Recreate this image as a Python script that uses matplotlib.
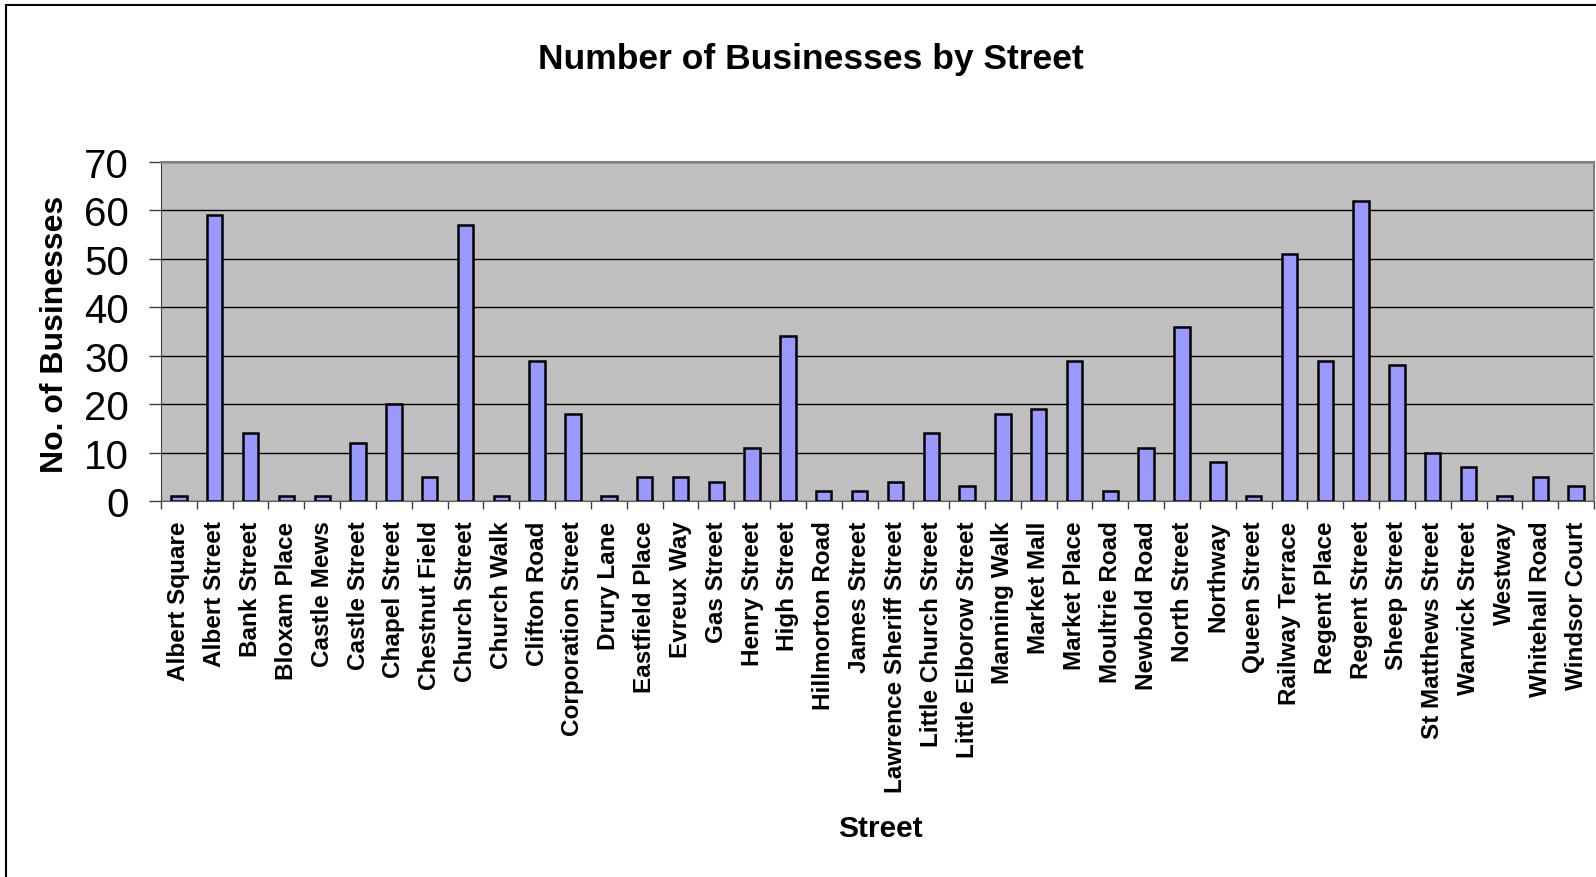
import numpy as np
import matplotlib
matplotlib.use("Agg")
import matplotlib.pyplot as plt
from matplotlib.patches import Rectangle

streets = ["Albert Square", "Albert Street", "Bank Street", "Bloxam Place", "Castle Mews",
           "Castle Street", "Chapel Street", "Chestnut Field", "Church Street", "Church Walk",
           "Clifton Road", "Corporation Street", "Drury Lane", "Eastfield Place", "Evreux Way",
           "Gas Street", "Henry Street", "High Street", "Hillmorton Road", "James Street",
           "Lawrence Sheriff Street", "Little Church Street", "Little Elborow Street",
           "Manning Walk", "Market Mall", "Market Place", "Moultrie Road", "Newbold Road",
           "North Street", "Northway", "Queen Street", "Railway Terrace", "Regent Place",
           "Regent Street", "Sheep Street", "St Matthews Street", "Warwick Street", "Westway",
           "Whitehall Road", "Windsor Court"]
businesses = [1, 59, 14, 1, 1, 12, 20, 5, 57, 1,
              29, 18, 1, 5, 5, 4, 11, 34, 2, 2,
              4, 14, 3, 18, 19, 29, 2, 11, 36, 8,
              1, 51, 29, 62, 28, 10, 7, 1, 5, 3]
y_ticks = list(range(0, 71, 10))

W, H = 1596, 878
plt.rcParams["font.family"] = ["Liberation Sans", "DejaVu Sans"]

fig = plt.figure(figsize=(W / 100, H / 100), dpi=100)
fig.patch.set_facecolor("white")

# chart area frame
fig.patches.append(Rectangle((6 / W, -0.1), 1.2, 1.1 - 6 / H, transform=fig.transFigure,
                             fill=False, edgecolor="black", linewidth=1.5))

ax = fig.add_axes([161 / W, 1 - 502 / H, (1594 - 161) / W, (502 - 163) / H])
ax.set_facecolor("#c0c0c0")

x = np.arange(len(streets))
ax.bar(x, businesses, width=0.43, color="#9999ff", edgecolor="black", linewidth=1.8, zorder=3)

ax.set_xlim(-0.5, len(streets) - 0.5)
ax.set_ylim(0, 70)
ax.set_yticks(y_ticks)
ax.yaxis.grid(True, color="black", linewidth=1)
ax.set_axisbelow(True)

# category boundaries get the tick marks, centres get the names
ax.set_xticks(np.arange(-0.5, len(streets), 1))
ax.set_xticklabels([])
ax.set_xticks(x, minor=True)
ax.set_xticklabels(streets, minor=True, rotation=90, fontsize=17.5, fontweight="bold", va="top")
ax.tick_params(axis="x", which="major", length=6, width=1, color="#404040", direction="out")
ax.tick_params(axis="x", which="minor", length=0, pad=14)
ax.tick_params(axis="y", length=9, width=1, color="#404040", labelsize=29, pad=14)

for side in ["top", "right"]:
    ax.spines[side].set_color("#808080")
    ax.spines[side].set_linewidth(1.5)
ax.spines["bottom"].set_color("#606060")
ax.spines["left"].set_color("#404040")

fig.text(811 / W, 1 - 59 / H, "Number of Businesses by Street", ha="center", va="center",
         fontsize=25.5, fontweight="bold")
fig.text(55 / W, 1 - 334 / H, "No. of Businesses", ha="center", va="center", rotation=90,
         fontsize=23, fontweight="bold")
fig.text(880 / W, 1 - 829 / H, "Street", ha="center", va="center",
         fontsize=21.5, fontweight="bold")

fig.savefig("out.png", dpi=100)
